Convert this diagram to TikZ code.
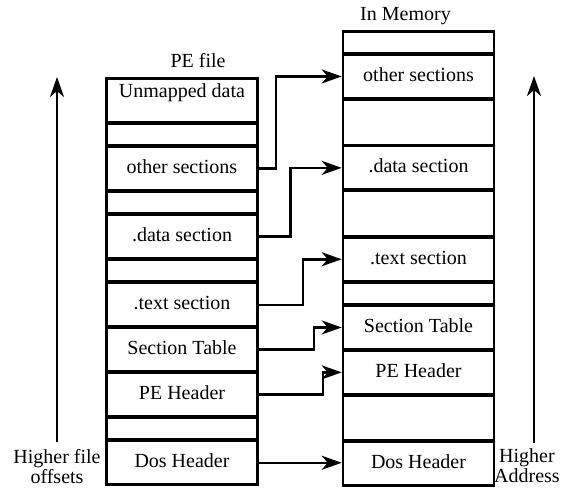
\documentclass[tikz,border=0pt]{standalone}
\usepackage{fontspec}
\setmainfont{Liberation Serif}
\usetikzlibrary{arrows.meta}
\usetikzlibrary{positioning}

\tikzset{
  sect/.style={draw,rectangle,line width=2.6pt,minimum width=151pt,minimum height=43.7pt,
    inner sep=2pt,text height=14pt,text depth=4pt},
  blank/.style={sect,minimum height=45.3pt},
  pad/.style={sect,inner sep=0pt,minimum height=22.1pt},
  link/.style={draw,line width=2.5pt,-{Stealth[length=20pt,width=14pt,inset=6pt]}},
  elbow/.style={to path={-- ++(#1,0) |- (\tikztotarget)}}
}

\begin{document}
\begin{tikzpicture}[x=1pt,y=-1pt,font=\fontsize{20pt}{20pt}\selectfont,node distance=-1.4pt]

  \useasboundingbox (0,0) rectangle (564,491);

  % the file on disk
  \node [sect,anchor=north,text depth=20pt,label={[xshift=16pt,label distance=6pt]above:PE file}] (Funmapped) at (182,77) {Unmapped data};
  \node [pad,below=of Funmapped] (Fpad_1) {};
  \node [sect,below=of Fpad_1] (Fother) {other sections};
  \node [pad,below=of Fother] (Fpad_2) {};
  \node [sect,below=of Fpad_2] (Fdata) {.data section};
  \node [pad,below=of Fdata] (Fpad_3) {};
  \node [sect,below=of Fpad_3] (Ftext) {.text section};
  \node [sect,below=of Ftext] (Fsectab) {Section Table};
  \node [sect,below=of Fsectab] (Fpehdr) {PE Header};
  \node [pad,below=of Fpehdr] (Fpad_4) {};
  \node [sect,below=of Fpad_4] (Fdoshdr) {Dos Header};

  % the image in memory
  \node [pad,anchor=north,label={[xshift=-13pt,label distance=2pt]above:In Memory}] (Mpad_1) at (418.5,30) {};
  \node [sect,below=of Mpad_1] (Mother) {other sections};
  \node [blank,below=of Mother] (Mblank_1) {};
  \node [sect,below=of Mblank_1] (Mdata) {.data section};
  \node [blank,below=of Mdata] (Mblank_2) {};
  \node [sect,below=of Mblank_2] (Mtext) {.text section};
  \node [pad,below=of Mtext] (Mpad_2) {};
  \node [sect,below=of Mpad_2] (Msectab) {Section Table};
  \node [sect,below=of Msectab] (Mpehdr) {PE Header};
  \node [blank,below=of Mpehdr] (Mblank_3) {};
  \node [sect,below=of Mblank_3] (Mdoshdr) {Dos Header};

  \path
    (Fother.east) edge [link,elbow=17] (Mother.west)
    (Fdata.east) edge [link,elbow=31.5] (Mdata.west)
    (Ftext.east) edge [link,elbow=44] (Mtext.west)
    (Fsectab.east) edge [link,elbow=55] (Msectab.west)
    (Fpehdr.east) edge [link,elbow=64] (Mpehdr.west)
    (Fdoshdr.east) edge [link] (Fdoshdr.east -| Mdoshdr.west);

  % direction arrows
  \node [anchor=north,align=center,inner xsep=3pt,inner ysep=7pt] (Foffsets) at (57,442) {Higher file\\offsets};
  \coordinate (Ftop) at (57,77);
  \draw [link] (Foffsets) -- (Ftop);

  \node [anchor=north,align=center,inner xsep=3pt,inner ysep=5pt] (Maddress) at (527,443) {Higher\\Address};
  \coordinate (Mtop) at (534,76);
  \draw [link] (Maddress.north -| Mtop) -- (Mtop);

\end{tikzpicture}
\end{document}
